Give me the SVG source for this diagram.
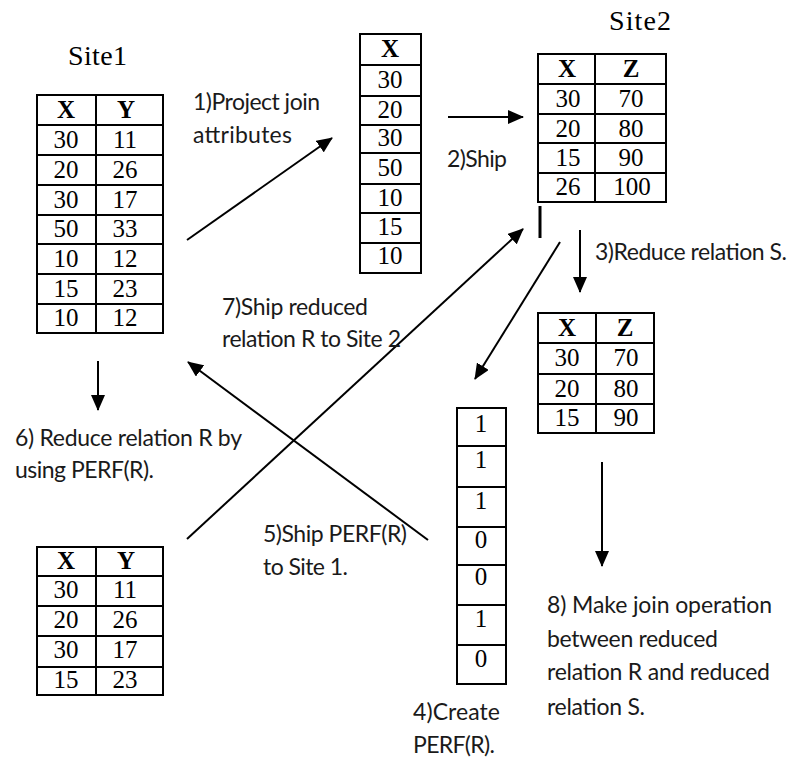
<svg xmlns="http://www.w3.org/2000/svg" width="791" height="760" viewBox="0 0 791 760">
  <style>
    .grid{fill:none;stroke:#000;stroke-width:2}
    .num{font-family:"Liberation Serif","Times New Roman",serif;font-size:25px;text-anchor:middle;fill:#000}
    .hd{font-weight:bold}
    .site{font-family:"Liberation Serif","Times New Roman",serif;font-size:28px;fill:#000}
    .lbl{font-family:Lato,"Liberation Sans",sans-serif;font-size:23px;fill:#1a1a1a}
    .conn{stroke:#000;stroke-width:2;fill:none}
  </style>
  <defs>
    <marker id="head" viewBox="0 0 16 14" refX="15" refY="7" markerWidth="16" markerHeight="14" markerUnits="userSpaceOnUse" orient="auto">
      <path d="M0,0 L16,7 L0,14 Z" fill="#000"/>
    </marker>
  </defs>
  <rect width="791" height="760" fill="#fff"/>

  <!-- site titles -->
  <text class="site" x="68" y="65" textLength="59">Site1</text>
  <text class="site" x="609" y="30" textLength="62">Site2</text>

  <!-- relation R at Site 1 -->
  <g id="relR">
    <rect class="grid" x="37" y="95" width="126" height="238"/>
    <path class="grid" d="M96,95V333M37,125H163M37,155H163M37,185H163M37,215H163M37,244H163M37,274H163M37,304H163"/>
    <text class="num hd" x="66" y="118">X</text><text class="num hd" x="126" y="118">Y</text>
    <text class="num" x="66" y="148">30</text><text class="num" x="125" y="148">11</text>
    <text class="num" x="66" y="178">20</text><text class="num" x="125" y="178">26</text>
    <text class="num" x="66" y="208">30</text><text class="num" x="125" y="208">17</text>
    <text class="num" x="66" y="237">50</text><text class="num" x="125" y="237">33</text>
    <text class="num" x="66" y="267">10</text><text class="num" x="125" y="267">12</text>
    <text class="num" x="66" y="297">15</text><text class="num" x="125" y="297">23</text>
    <text class="num" x="66" y="326">10</text><text class="num" x="125" y="326">12</text>
  </g>

  <!-- projected join attribute X -->
  <g id="projX">
    <rect class="grid" x="360" y="34" width="61" height="239"/>
    <path class="grid" d="M360,65H421M360,96H421M360,125H421M360,153H421M360,184H421M360,213H421M360,243H421"/>
    <text class="num hd" x="390" y="57">X</text>
    <text class="num" x="390" y="88">30</text>
    <text class="num" x="390" y="118">20</text>
    <text class="num" x="390" y="146">30</text>
    <text class="num" x="390" y="176">50</text>
    <text class="num" x="390" y="206">10</text>
    <text class="num" x="390" y="235">15</text>
    <text class="num" x="390" y="264">10</text>
  </g>

  <!-- relation S at Site 2 -->
  <g id="relS">
    <rect class="grid" x="538" y="54" width="128" height="148"/>
    <path class="grid" d="M595,54V202M538,84H666M538,114H666M538,143H666M538,173H666"/>
    <text class="num hd" x="567" y="77">X</text><text class="num hd" x="631" y="77">Z</text>
    <text class="num" x="568" y="107">30</text><text class="num" x="631" y="107">70</text>
    <text class="num" x="568" y="137">20</text><text class="num" x="631" y="137">80</text>
    <text class="num" x="568" y="166">15</text><text class="num" x="631" y="166">90</text>
    <text class="num" x="568" y="195">26</text><text class="num" x="632" y="195">100</text>
  </g>

  <!-- reduced relation S -->
  <g id="redS">
    <rect class="grid" x="538" y="313" width="116" height="120"/>
    <path class="grid" d="M596,313V433M538,343H654M538,374H654M538,404H654"/>
    <text class="num hd" x="567" y="336">X</text><text class="num hd" x="625" y="336">Z</text>
    <text class="num" x="567" y="366">30</text><text class="num" x="626" y="366">70</text>
    <text class="num" x="567" y="397">20</text><text class="num" x="626" y="397">80</text>
    <text class="num" x="567" y="426">15</text><text class="num" x="626" y="426">90</text>
  </g>

  <!-- PERF(R) bit column -->
  <g id="perf">
    <rect class="grid" x="457" y="408" width="49" height="276"/>
    <path class="grid" d="M457,446H506M457,487H506M457,527H506M457,565H506M457,605H506M457,645H506"/>
    <text class="num" x="481" y="432">1</text>
    <text class="num" x="481" y="468">1</text>
    <text class="num" x="481" y="509">1</text>
    <text class="num" x="481" y="548">0</text>
    <text class="num" x="481" y="585">0</text>
    <text class="num" x="481" y="627">1</text>
    <text class="num" x="481" y="667">0</text>
  </g>

  <!-- reduced relation R -->
  <g id="redR">
    <rect class="grid" x="37" y="547" width="126" height="148"/>
    <path class="grid" d="M96,547V695M37,576H163M37,606H163M37,636H163M37,667H163"/>
    <text class="num hd" x="66" y="569">X</text><text class="num hd" x="126" y="569">Y</text>
    <text class="num" x="66" y="598">30</text><text class="num" x="125" y="598">11</text>
    <text class="num" x="66" y="628">20</text><text class="num" x="125" y="628">26</text>
    <text class="num" x="66" y="658">30</text><text class="num" x="125" y="658">17</text>
    <text class="num" x="66" y="688">15</text><text class="num" x="125" y="688">23</text>
  </g>

  <!-- step arrows -->
  <g id="connectors">
    <line class="conn" x1="187" y1="240" x2="332" y2="138" marker-end="url(#head)"/>
    <line class="conn" x1="448" y1="117" x2="523" y2="117" marker-end="url(#head)"/>
    <line class="conn" x1="580" y1="230" x2="580" y2="292" marker-end="url(#head)"/>
    <line class="conn" x1="560" y1="242" x2="475" y2="379" marker-end="url(#head)"/>
    <line class="conn" x1="428" y1="540" x2="188" y2="362" marker-end="url(#head)"/>
    <line class="conn" x1="98" y1="361" x2="98" y2="410" marker-end="url(#head)"/>
    <line class="conn" x1="187" y1="539" x2="523" y2="229" marker-end="url(#head)"/>
    <line class="conn" x1="602" y1="462" x2="602" y2="566" marker-end="url(#head)"/>
    <line stroke="#000" stroke-width="3" x1="540" y1="206" x2="540" y2="238"/>
  </g>

  <!-- step labels -->
  <g id="labels">
    <text class="lbl" x="193" y="110" textLength="127">1)Project join</text>
    <text class="lbl" x="193" y="143" textLength="99">attributes</text>
    <text class="lbl" x="447" y="167" textLength="60">2)Ship</text>
    <text class="lbl" x="595" y="260" textLength="192">3)Reduce relation S.</text>
    <text class="lbl" x="222" y="315" textLength="146">7)Ship reduced</text>
    <text class="lbl" x="222" y="347" textLength="179">relation R to Site 2</text>
    <text class="lbl" x="15" y="446" textLength="227">6) Reduce relation R by</text>
    <text class="lbl" x="15" y="478" textLength="139">using PERF(R).</text>
    <text class="lbl" x="263" y="542" textLength="144">5)Ship PERF(R)</text>
    <text class="lbl" x="263" y="575" textLength="85">to Site 1.</text>
    <text class="lbl" x="547" y="613" textLength="225">8) Make join  operation</text>
    <text class="lbl" x="547" y="647" textLength="171">between reduced</text>
    <text class="lbl" x="547" y="680" textLength="223">relation R and reduced</text>
    <text class="lbl" x="547" y="715" textLength="98">relation S.</text>
    <text class="lbl" x="413" y="720" textLength="87">4)Create</text>
    <text class="lbl" x="413" y="753" textLength="82">PERF(R).</text>
  </g>
</svg>
